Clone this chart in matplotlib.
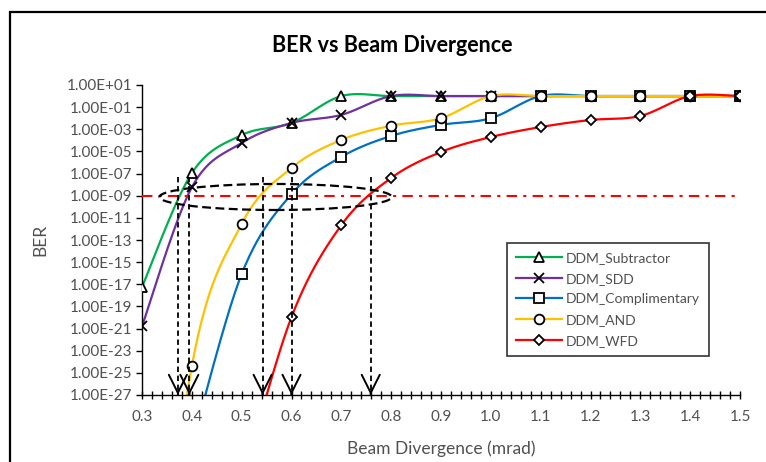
import numpy as np
import matplotlib
matplotlib.use("Agg")
import matplotlib.pyplot as plt
from matplotlib.patches import Ellipse, Rectangle
from matplotlib.lines import Line2D
from matplotlib.ticker import FixedLocator, MultipleLocator, NullLocator

plt.rcParams['font.family'] = ['Lato', 'DejaVu Sans']

# beam divergence (mrad)
divergence = [0.3, 0.4, 0.5, 0.6, 0.7, 0.8, 0.9, 1.0, 1.1, 1.2, 1.3, 1.4, 1.5]

# BER values (None = no point); a few sit below the axis limit
ber_subtractor = [5.6e-18, 1.1e-7, 3.0e-4, 3.7e-3, 1, 1, 1, 1, 1, 1, 1, 1, 1]
ber_sdd = [1.6e-21, 5.8e-9, 5.8e-5, 3.7e-3, 2.0e-2, 1, 1, 1, 1, 1, 1, 1, 1]
ber_compl = [None, 3.2e-32, 8.5e-17, 1.4e-9, 3.2e-6, 2.5e-4, 2.5e-3, 1.0e-2, 1, 1, 1, 1, 1]
ber_and = [1e-60, 4.0e-25, 2.8e-12, 3.2e-7, 1.1e-4, 2.1e-3, 1.0e-2, 1, 1, 1, 1, 1, 1]
ber_wfd = [None, None, 1e-35, 1.1e-20, 2.2e-12, 4.0e-8, 8.9e-6, 2.0e-4, 1.6e-3, 6.9e-3, 1.6e-2, 1, 1]

series_names = ['DDM_Subtractor', 'DDM_SDD', 'DDM_Complimentary', 'DDM_AND', 'DDM_WFD']
series_values = [ber_subtractor, ber_sdd, ber_compl, ber_and, ber_wfd]
series_colors = ['#00B050', '#7030A0', '#0070C0', '#FFC000', '#FF0000']
series_markers = ['^', 'x', 's', 'o', 'D']
marker_sizes = [6.5, 7, 6.5, 7, 5]

# divergence where each curve crosses the BER = 1e-9 threshold
crossing_x = [0.372, 0.395, 0.542, 0.600, 0.759]
ber_threshold = 1e-9


def smooth(xs, ys, n=40):
    # Excel-like smoothed line: Catmull-Rom as cubic Bezier, done in (x, log y)
    pts = np.column_stack([xs, np.log10(ys)])
    P = np.vstack([pts[0], pts, pts[-1]])
    out = []
    t = np.linspace(0, 1, n)[:, None]
    for i in range(1, len(P) - 2):
        p0, p1, p2, p3 = P[i - 1], P[i], P[i + 1], P[i + 2]
        c1 = p1 + (p2 - p0) / 6
        c2 = p2 - (p3 - p1) / 6
        seg = (1 - t) ** 3 * p1 + 3 * (1 - t) ** 2 * t * c1 + 3 * (1 - t) * t ** 2 * c2 + t ** 3 * p2
        out.append(seg)
    out = np.vstack(out)
    return out[:, 0], 10.0 ** out[:, 1]


fig = plt.figure(figsize=(7.66, 4.62), dpi=100)
ax = fig.add_axes([142 / 766, 67 / 462, 598 / 766, 310 / 462])

handles = []
for name, vals, col, mk, ms in zip(series_names, series_values, series_colors, series_markers, marker_sizes):
    xs = np.array([x for x, v in zip(divergence, vals) if v is not None])
    ys = np.array([v for v in vals if v is not None], dtype=float)
    sx, sy = smooth(xs, ys)
    ax.plot(sx, sy, color=col, lw=1.6, zorder=2)
    ax.plot(xs, ys, linestyle='none', marker=mk, ms=ms, mfc='white', mec='black', mew=1.3, zorder=3)
    handles.append(Line2D([], [], color=col, lw=1.6, marker=mk, ms=ms, mfc='white', mec='black', mew=1.3))

ax.set_xlim(0.3, 1.5)
ax.set_yscale('log')
ax.set_ylim(1e-27, 1e1)

# threshold line
ax.plot([0.3, 1.5], [ber_threshold, ber_threshold], color='#FF0000', lw=1.5,
        linestyle=(0, (5, 3, 1.5, 3)), zorder=4)

# dashed arrows down to the axis
arrow_top = 10 ** -7.3
for cx in crossing_x:
    ax.plot([cx, cx], [arrow_top, 1e-27], color='black', lw=1.3, linestyle=(0, (3, 2)), zorder=5)
    ax.annotate('', xy=(cx, 1e-27), xytext=(cx, 10 ** -26.9),
                arrowprops=dict(arrowstyle='->, head_length=1.3, head_width=0.65',
                                color='black', lw=1.4, shrinkA=0, shrinkB=0, mutation_scale=10),
                zorder=5)

# dashed ellipse around the threshold crossings
ex0, ex1 = 0.335, 0.801
ey0, ey1 = -10.29, -7.94
ell = Ellipse(((ex0 + ex1) / 2 - 0.3, ((ey0 + ey1) / 2 + 27)), ex1 - ex0, ey1 - ey0,
              fill=False, ec='black', lw=1.6, linestyle=(0, (4, 2)), zorder=5)
ell.set_transform(matplotlib.transforms.Affine2D().scale(1 / 1.2, 1 / 28) + ax.transAxes)
ax.add_patch(ell)

# ticks
yt = [10.0 ** e for e in range(1, -28, -2)]
ax.yaxis.set_major_locator(FixedLocator(yt))
ax.yaxis.set_minor_locator(NullLocator())
ax.set_yticklabels(['1.00E{:+03d}'.format(e) for e in range(1, -28, -2)])
ax.xaxis.set_major_locator(MultipleLocator(0.1))
ax.xaxis.set_minor_locator(MultipleLocator(0.02))
ax.set_xticks(divergence)
ax.set_xticklabels(['{:.1f}'.format(x) for x in divergence])
ax.tick_params(axis='x', which='both', direction='inout', length=6, width=1, color='black',
               labelsize=11, labelcolor='#505050', pad=8)
ax.tick_params(axis='y', which='major', direction='out', length=4, width=1, color='black',
               labelsize=11, labelcolor='#505050', pad=3)

for s in ['top', 'right']:
    ax.spines[s].set_visible(False)
for s in ['left', 'bottom']:
    ax.spines[s].set_color('black')
    ax.spines[s].set_linewidth(1)

fig.text(392 / 766, 1 - 45 / 462, 'BER vs Beam Divergence', ha='center', va='center',
         fontsize=15.5, fontweight='bold', color='black')
fig.text(40 / 766, 1 - 240 / 462, 'BER', ha='center', va='center', rotation=90,
         fontsize=12.5, color='#505050')
fig.text(441 / 766, 1 - 449 / 462, 'Beam Divergence (mrad)', ha='center', va='center',
         fontsize=12.5, color='#505050')

leg = ax.legend(handles, series_names, loc='upper left', bbox_to_anchor=(0.61, 0.49),
                borderaxespad=0, fontsize=10, frameon=True, fancybox=False,
                handlelength=3.3, labelspacing=0.62, borderpad=0.65, handletextpad=0.3)
leg.get_frame().set_edgecolor('black')
leg.get_frame().set_linewidth(1.2)
for t in leg.get_texts():
    t.set_color('#505050')

# chart-area border (cropped at right and bottom)
fig.patches.append(Rectangle((10 / 766, -0.1), 1.2, 1 - 12 / 462 + 0.1, transform=fig.transFigure,
                             fill=False, ec='black', lw=1.6))

fig.savefig('out.png', dpi=100)
